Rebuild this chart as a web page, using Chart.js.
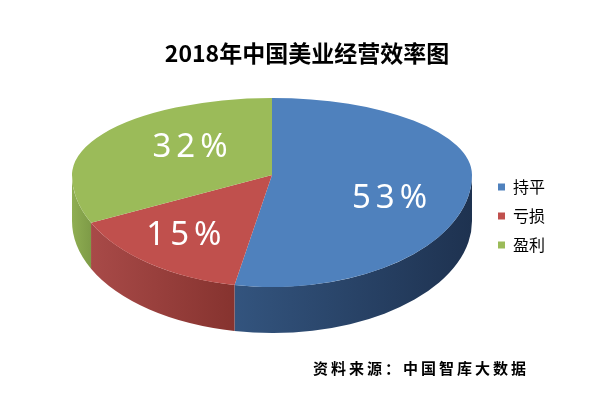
<!DOCTYPE html>
<html>
<head>
<meta charset="utf-8">
<script src="https://cdn.jsdelivr.net/npm/chart.js@4.4.0/dist/chart.umd.min.js"></script>
<style>
  html, body { margin: 0; padding: 0; background: #fff; }
  #wrap { width: 603px; height: 395px; position: relative; }
</style>
</head>
<body>
<div id="wrap"><canvas id="chart"></canvas></div>
<script>
// ── DATA ──────────────────────────────────────────────
var labels = ['持平', '亏损', '盈利'];
var shares = [53, 15, 32];
var titleText = '2018年中国美业经营效率图';
var sourceText = '资料来源：中国智库大数据';

// ── STYLE ─────────────────────────────────────────────
var topColors = ['#4F81BD', '#C0504D', '#9BBB59'];
var sideLight = ['#33547E', '#A84A48', '#8FAE52'];
var sideDark  = ['#1E3250', '#86332F', '#7E9B47'];
var cjk = '"Noto Sans CJK SC", "Noto Sans", sans-serif';

// Fake 3D pie: chart.js computes the arcs, we squash them into a tilted disc
// (far half flatter than near half, like a bit of perspective) and paint
// the visible front wall underneath.
function squash(ctx, arc, o, ry){
  ctx.translate(o.cx, o.cy);
  ctx.scale(o.rx / arc.outerRadius, ry / arc.outerRadius);
  ctx.translate(-arc.x, -arc.y);
}

var pie3d = {
  id: 'pie3d',
  beforeDatasetsDraw: function(chart, args, o){
    var ctx = chart.ctx;
    var arcs = chart.getDatasetMeta(0).data;

    // front wall
    arcs.forEach(function(arc, i){
      var a0 = Math.max(arc.startAngle, 0), a1 = Math.min(arc.endAngle, Math.PI);
      if(a1 <= a0) return;
      var xa = o.cx + o.rx * Math.cos(a0), xb = o.cx + o.rx * Math.cos(a1);
      var g = ctx.createLinearGradient(Math.min(xa, xb), 0, Math.max(xa, xb), 0);
      g.addColorStop(0, sideLight[i]);
      g.addColorStop(1, sideDark[i]);
      ctx.beginPath();
      ctx.ellipse(o.cx, o.cy, o.rx, o.ryNear, 0, a0, a1);
      ctx.ellipse(o.cx, o.cy + o.depth, o.rx, o.ryNear, 0, a1, a0, true);
      ctx.closePath();
      ctx.fillStyle = g;
      ctx.fill();
    });

    // far half of the top face
    ctx.save();
    ctx.beginPath(); ctx.rect(0, 0, chart.width, o.cy); ctx.clip();
    squash(ctx, arcs[0], o, o.ryFar);
    arcs.forEach(function(arc){ arc.draw(ctx); });
    ctx.restore();

    // near half: chart.js draws the arcs itself inside this state
    ctx.save();
    ctx.beginPath(); ctx.rect(0, o.cy, chart.width, chart.height - o.cy); ctx.clip();
    squash(ctx, arcs[0], o, o.ryNear);
  },
  afterDatasetsDraw: function(chart, args, o){
    var ctx = chart.ctx;
    ctx.restore();

    var arcs = chart.getDatasetMeta(0).data;
    var total = shares.reduce(function(a, b){ return a + b; }, 0);
    ctx.save();
    ctx.fillStyle = '#fff';
    ctx.font = '33px "Noto Sans", sans-serif';
    ctx.letterSpacing = '5px';
    ctx.textAlign = 'center';
    ctx.textBaseline = 'middle';
    arcs.forEach(function(arc, i){
      var mid = (arc.startAngle + arc.endAngle) / 2;
      var s = Math.sin(mid);
      var ry = s < 0 ? o.ryFar : o.ryNear;
      var x = o.cx + o.rx * o.labelR * Math.cos(mid) + o.labelDx[i];
      var y = o.cy + ry * o.labelR * s + o.labelDy[i];
      ctx.fillText(Math.round(shares[i] / total * 100) + '%', x + 4.5, y);
    });
    ctx.restore();
  },
  afterDraw: function(chart, args, o){
    var ctx = chart.ctx;
    ctx.save();
    ctx.fillStyle = '#000';
    ctx.font = 'bold 15px ' + cjk;
    ctx.letterSpacing = '3px';
    ctx.textAlign = 'left';
    ctx.textBaseline = 'middle';
    ctx.fillText(sourceText, o.sourceX, o.sourceY);
    ctx.restore();
  }
};

new Chart(document.getElementById('chart'), {
  type: 'pie',
  data: {
    labels: labels,
    datasets: [{ data: shares, backgroundColor: topColors, borderWidth: 0, clip: false }]
  },
  options: {
    responsive: true, maintainAspectRatio: false, animation: false, events: [],
    layout: { padding: { left: 59, right: 48, top: 37, bottom: 0 } },
    plugins: {
      title: {
        display: true, text: titleText, color: '#000',
        font: { family: cjk, size: 23, weight: 'bold' },
        padding: { top: 2, bottom: 40 }
      },
      legend: {
        position: 'right',
        labels: {
          color: '#000', font: { family: cjk, size: 16 },
          boxWidth: 7, boxHeight: 7, padding: 13
        }
      },
      tooltip: { enabled: false },
      pie3d: {
        cx: 272, cy: 175, rx: 200, ryFar: 77, ryNear: 112, depth: 46,
        labelR: 0.58, labelDx: [0, -19, 14], labelDy: [17, 9, -3],
        sourceX: 313, sourceY: 368
      }
    }
  },
  plugins: [pie3d]
});
</script>
</body>
</html>
